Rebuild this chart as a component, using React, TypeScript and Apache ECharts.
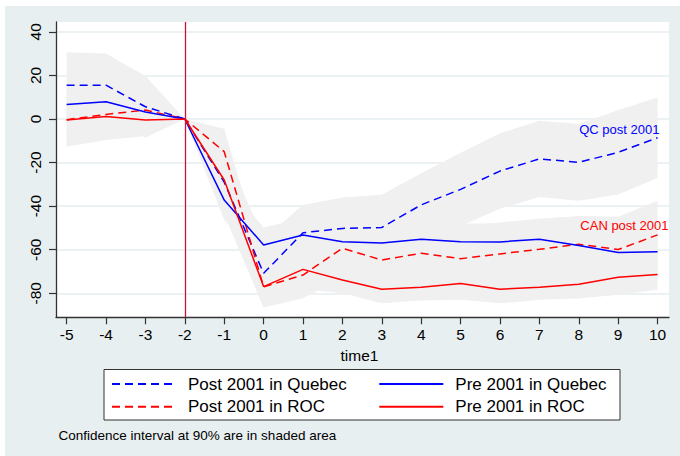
import { useEffect, useRef } from 'react';
import * as echarts from 'echarts';

// Event time relative to the 2001 reform
const time = [-5, -4, -3, -2, -1, 0, 1, 2, 3, 4, 5, 6, 7, 8, 9, 10];

// Point estimates
const postQuebec = [15.5, 15.5, 5.6, 0, -29, -70.8, -52.2, -50.2, -49.8, -39.4, -32.3, -23.9, -18.3, -19.9, -15.3, -8.6];
const preQuebec = [6.7, 7.9, 3.2, 0, -37.2, -57.8, -53.2, -56.3, -56.9, -55.2, -56.3, -56.4, -55.2, -58.1, -61.3, -60.9];
const postROC = [-0.3, 2.1, 4.1, 0, -15, -77, -71.6, -59.3, -64.7, -61.6, -64.1, -61.9, -59.8, -57.5, -59.9, -53.2];
const preROC = [-0.5, 1.1, -0.5, 0, -28, -76.9, -69, -73.9, -78.1, -77.2, -75.5, -78.1, -77.2, -75.8, -72.6, -71.4];

// 90% confidence bounds
const postQuebecUpper = [30.6, 30.1, 19.7, 0, -14, -54.8, -39.5, -36, -34.8, -24.9, -15.5, -6.6, -0.8, -2.3, 4.1, 9.9];
const postQuebecLower = [0.4, 0.9, -8.5, 0, -44, -86.5, -65, -64.4, -64.8, -53.9, -49.1, -41.2, -35.8, -37.5, -34.7, -27.1];
const preQuebecUpper = [14.5, 15.5, 11, 0, -28, -49.8, -45.5, -48.5, -48.5, -47.5, -48, -48, -47, -50, -53, -52.5];
const preQuebecLower = [-1.1, 0.3, -4.6, 0, -46.3, -65.8, -61, -64.1, -65.3, -62.9, -64.6, -64.8, -63.4, -66.2, -69.6, -69.3];
const postROCUpper = [10, 11.5, 12, 0, -4.5, -66, -61, -45.5, -50, -47, -49.5, -47.5, -45.8, -44.5, -44.9, -37.5];
const postROCLower = [-10.5, -7.3, -3.8, 0, -25.5, -86.5, -82.3, -73.1, -79.4, -76.2, -78.7, -76.8, -73.8, -72, -74.9, -68.9];
const preROCUpper = [8, 9, 7, 0, -14, -67, -60, -66, -71.5, -70.5, -69, -71.5, -70.5, -69, -66, -64.4];
const preROCLower = [-12.7, -9.6, -7.8, 0, -40, -86.5, -78, -80, -84.6, -83.3, -83, -84.6, -83, -82.4, -80.7, -78.4];

// Axis ticks
const xTicks = [-5, -4, -3, -2, -1, 0, 1, 2, 3, 4, 5, 6, 7, 8, 9, 10];
const yTicks = [-80, -60, -40, -20, 0, 20, 40];
const reformTime = -2;

const BLUE = '#0000ff';
const RED = '#ff0000';
const BAND = '#f0f0f0';
const FONT = '"Liberation Sans", Arial, Helvetica, sans-serif';

const bands = [
  { lower: postQuebecLower, upper: postQuebecUpper },
  { lower: preQuebecLower, upper: preQuebecUpper },
  { lower: postROCLower, upper: postROCUpper },
  { lower: preROCLower, upper: preROCUpper },
];

const pairs = (vals: number[]) => time.map((t, i) => [t, vals[i]]);

function estimate(name: string, vals: number[], color: string, dashed: boolean, extra: object = {}) {
  return {
    type: 'line',
    name,
    data: pairs(vals),
    symbol: 'none',
    lineStyle: { color, width: 1.5, type: dashed ? [8, 5] : 'solid' },
    itemStyle: { color },
    z: 3,
    ...extra,
  };
}

const tagLabel = (text: string, color: string) => ({
  show: true,
  position: 'left',
  distance: 0,
  formatter: text,
  color,
  fontSize: 13,
  fontFamily: FONT,
});

export default function App() {
  const ref = useRef<HTMLDivElement>(null);

  useEffect(() => {
    if (!ref.current) return;
    const chart = echarts.init(ref.current, undefined, { renderer: 'svg' });

    const legendCommon = {
      orient: 'vertical',
      top: 374,
      padding: 0,
      itemWidth: 64,
      itemHeight: 10,
      itemGap: 2.7,
      selectedMode: false,
      itemStyle: { color: 'transparent', borderColor: 'transparent', borderWidth: 0 },
      textStyle: {
        fontSize: 17,
        lineHeight: 20,
        color: '#000',
        fontFamily: FONT,
        padding: [0, 0, 0, 7],
      },
    };

    chart.setOption({
      animation: false,
      backgroundColor: 'transparent',
      textStyle: { fontFamily: FONT },
      grid: {
        left: 56,
        right: 11,
        top: 22,
        bottom: 138.7,
        show: true,
        backgroundColor: '#fff',
        borderWidth: 0,
      },
      xAxis: {
        type: 'value',
        min: -5.27,
        max: 10.29,
        name: 'time1',
        nameLocation: 'middle',
        nameGap: 24,
        nameTextStyle: { fontSize: 15.5, color: '#000', fontFamily: FONT, padding: [0, 6, 0, 0] },
        axisLine: { onZero: false, lineStyle: { color: '#333', width: 1.3 } },
        axisTick: { length: 7, customValues: xTicks, lineStyle: { color: '#333', width: 1.2 } },
        axisLabel: { customValues: xTicks, fontSize: 15.5, color: '#000', margin: 9, fontFamily: FONT },
        splitLine: { show: false },
      },
      yAxis: {
        type: 'value',
        min: -91,
        max: 44.5,
        axisLine: { show: true, onZero: false, lineStyle: { color: '#333', width: 1.3 } },
        axisTick: { show: true, length: 7, customValues: yTicks, lineStyle: { color: '#333', width: 1.2 } },
        axisLabel: {
          customValues: yTicks,
          rotate: 90,
          fontSize: 15.5,
          color: '#000',
          margin: 13,
          fontFamily: FONT,
        },
        splitLine: { show: true, lineStyle: { color: '#e6eef0', width: 1.5 } },
      },
      legend: [
        { ...legendCommon, left: 111, data: ['Post 2001 in Quebec', 'Post 2001 in ROC'] },
        { ...legendCommon, left: 378.3, data: ['Pre 2001 in Quebec', 'Pre 2001 in ROC'] },
      ],
      graphic: [
        {
          type: 'rect',
          shape: { x: 104, y: 369.5, width: 516, height: 50.5 },
          style: { fill: '#fff', stroke: '#333', lineWidth: 1 },
          silent: true,
          z: 0,
        },
        {
          type: 'text',
          x: 58.5,
          y: 435,
          style: {
            text: 'Confidence interval at 90% are in shaded area',
            fill: '#000',
            font: `13.5px ${FONT}`,
            verticalAlign: 'middle',
          },
          silent: true,
        },
      ],
      series: [
        {
          // shaded confidence regions, one polygon per estimate
          type: 'custom',
          silent: true,
          z: 1,
          clip: true,
          data: bands.map((_, i) => [i, 0]),
          encode: { x: 0, y: 1 },
          renderItem: (params: any, api: any) => {
            const b = bands[params.dataIndex];
            const top = time.map((t, i) => api.coord([t, b.upper[i]]));
            const bottom = time.map((t, i) => api.coord([t, b.lower[i]])).reverse();
            return {
              type: 'polygon',
              shape: { points: [...top, ...bottom] },
              style: { fill: BAND },
            };
          },
        },
        estimate('Post 2001 in Quebec', postQuebec, BLUE, true, {
          markPoint: {
            symbol: 'circle',
            symbolSize: 1,
            itemStyle: { color: 'transparent' },
            silent: true,
            data: [{ coord: [10.06, -4.7], label: tagLabel('QC post 2001', BLUE) }],
          },
        }),
        estimate('Post 2001 in ROC', postROC, RED, true, {
          markPoint: {
            symbol: 'circle',
            symbolSize: 1,
            itemStyle: { color: 'transparent' },
            silent: true,
            data: [{ coord: [10.29, -49.1], label: tagLabel('CAN post 2001', RED) }],
          },
        }),
        estimate('Pre 2001 in Quebec', preQuebec, BLUE, false, {
          markLine: {
            silent: true,
            symbol: ['none', 'none'],
            label: { show: false },
            lineStyle: { color: '#c8143c', width: 1.3, type: 'solid' },
            data: [{ xAxis: reformTime }],
          },
        }),
        estimate('Pre 2001 in ROC', preROC, RED, false),
      ],
    });

    return () => chart.dispose();
  }, []);

  return (
    <div style={{ position: 'absolute', left: 0, top: 0, width: 680, height: 456, background: '#fff' }}>
      <div
        style={{ position: 'absolute', left: 5, top: 6, width: 675, height: 450, background: '#e8eff1' }}
      />
      <div ref={ref} style={{ position: 'absolute', left: 0, top: 0, width: 680, height: 456 }} />
    </div>
  );
}
